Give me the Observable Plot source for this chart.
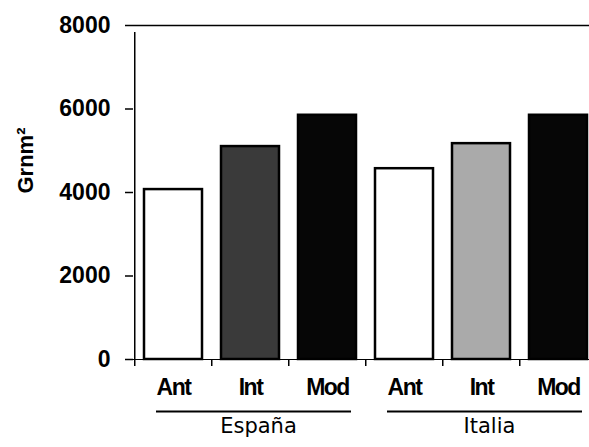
<!DOCTYPE html>
<html>
<head>
<meta charset="utf-8">
<script src="https://cdn.jsdelivr.net/npm/d3@7"></script>
<script src="https://cdn.jsdelivr.net/npm/@observablehq/plot@0.6"></script>
<style>
  html, body { margin: 0; padding: 0; background: #fff; overflow: hidden; }
  g[aria-description="sublabel"] text { letter-spacing: -1.5px; }
</style>
</head>
<body>
<div id="chart"></div>
<script>
// ---- data ----
const countries = ["España", "Italia"];
const periods = ["Ant", "Int", "Mod"];
const espanaValues = [4070, 5100, 5850];
const italiaValues = [4570, 5170, 5850];
const yTicks = [0, 2000, 4000, 6000, 8000];
const yLabel = "Grnm²";

// ---- build table ----
const seriesValues = [espanaValues, italiaValues];
const rows = countries.flatMap((c, ci) =>
  periods.map((p, pi) => ({key: c + "|" + p, country: c, period: p, value: seriesValues[ci][pi]}))
);
const keys = rows.map(d => d.key);

// styles
const barFill = {
  "España|Ant": "#ffffff", "España|Int": "#3a3a3a", "España|Mod": "#060606",
  "Italia|Ant": "#ffffff", "Italia|Int": "#aaaaaa", "Italia|Mod": "#060606"
};
const xRange = [133, 598];
const step = (xRange[1] - xRange[0]) / keys.length;

const chart = Plot.plot({
  width: 589,
  height: 447,
  marginLeft: 133,
  marginRight: 0,
  marginTop: 25,
  marginBottom: 88,
  style: {fontFamily: "'Liberation Sans', Arial, sans-serif", color: "#000", background: "#fff"},
  x: {domain: keys, range: xRange, paddingInner: 0.25, paddingOuter: 0.125, axis: null},
  y: {domain: [yTicks[0], yTicks[yTicks.length - 1]], axis: null},
  marks: [
    Plot.axisY({ticks: yTicks, tickFormat: d => String(d), tickSize: 8, tickPadding: 15, fontSize: 23, fontWeight: "bold", label: null, strokeWidth: 1.5}),
    Plot.ruleY([yTicks[yTicks.length - 1]], {strokeWidth: 1.5}),
    Plot.ruleY([yTicks[0]], {strokeWidth: 1}),
    Plot.ruleX([keys[0]], {x: d => d, y1: yTicks[0], y2: yTicks[yTicks.length - 1], dx: -step / 2, insetBottom: -7, strokeWidth: 1.5}),
    Plot.axisX({tickSize: 7, tickFormat: () => "", dx: -step / 2, strokeWidth: 1.5, label: null}),
    Plot.barY(rows, {x: "key", y: "value", fill: d => barFill[d.key], stroke: "#000", strokeWidth: 2.5}),
    Plot.text(rows, {x: "key", text: "period", frameAnchor: "bottom", dy: 35, fontSize: 23, fontWeight: "bold", ariaDescription: "sublabel"}),
    Plot.ruleY(countries, {
      x1: c => c + "|" + periods[0],
      x2: c => c + "|" + periods[periods.length - 1],
      y: () => yTicks[0],
      dy: 52, insetLeft: 12, insetRight: 5, strokeWidth: 2
    }),
    Plot.text(countries, {x: c => c + "|" + periods[1], text: d => d, frameAnchor: "bottom", dy: 73, dx: 8, fontSize: 21, fontFamily: "'DejaVu Sans', sans-serif"}),
    Plot.text([yLabel], {text: d => d, frameAnchor: "left", rotate: -90, dx: -108, dy: 1, fontSize: 22, fontWeight: "bold"})
  ]
});
document.getElementById("chart").appendChild(chart);
</script>
</body>
</html>
